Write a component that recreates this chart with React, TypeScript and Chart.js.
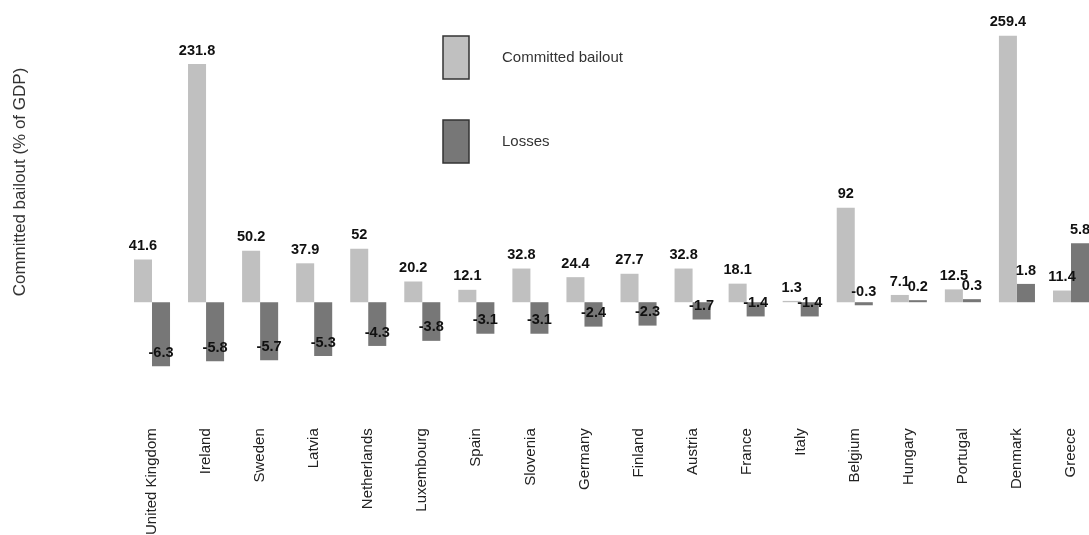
import React, { useEffect, useRef } from "react";
import { Chart, registerables } from "chart.js";

Chart.register(...registerables);

const categories = [
  "United Kingdom", "Ireland", "Sweden", "Latvia", "Netherlands", "Luxembourg",
  "Spain", "Slovenia", "Germany", "Finland", "Austria", "France", "Italy",
  "Belgium", "Hungary", "Portugal", "Denmark", "Greece",
];
const committedBailout = [41.6, 231.8, 50.2, 37.9, 52, 20.2, 12.1, 32.8, 24.4, 27.7, 32.8, 18.1, 1.3, 92, 7.1, 12.5, 259.4, 11.4];
const losses = [-6.3, -5.8, -5.7, -5.3, -4.3, -3.8, -3.1, -3.1, -2.4, -2.3, -1.7, -1.4, -1.4, -0.3, 0.2, 0.3, 1.8, 5.8];
const seriesNames = ["Committed bailout", "Losses"];
const yTitle = "Committed bailout (% of GDP)";

const FONT = "'Liberation Sans', Arial, sans-serif";

const valueLabels = {
  id: "valueLabels",
  afterDatasetsDraw(chart: any) {
    const ctx = chart.ctx;
    ctx.save();
    ctx.fillStyle = "#111";
    ctx.font = `bold 15px ${FONT}`;
    ctx.textAlign = "center";
    ctx.textBaseline = "middle";
    chart.data.datasets.forEach((ds: any, di: number) => {
      const meta = chart.getDatasetMeta(di);
      meta.data.forEach((el: any, i: number) => {
        const v = ds.data[i];
        ctx.save();
        ctx.translate(el.x, el.y - 13.5);
        ctx.scale(0.97, 1);
        ctx.fillText(String(v), 0, 0);
        ctx.restore();
      });
    });
    ctx.restore();
  },
};

const decorations = {
  id: "decorations",
  afterDraw(chart: any) {
    const ctx = chart.ctx;
    ctx.save();
    // legend
    chart.data.datasets.forEach((ds: any, i: number) => {
      const bx = 443;
      const by = 36 + i * 84;
      ctx.fillStyle = ds.backgroundColor;
      ctx.fillRect(bx, by, 26, 43);
      ctx.strokeStyle = "#333";
      ctx.lineWidth = 1.5;
      ctx.strokeRect(bx, by, 26, 43);
      ctx.fillStyle = "#333";
      ctx.font = `15px ${FONT}`;
      ctx.textAlign = "left";
      ctx.textBaseline = "middle";
      ctx.fillText(ds.label, 502, by + 22);
    });
    // y title
    ctx.translate(20, 182);
    ctx.rotate(-Math.PI / 2);
    ctx.fillStyle = "#333";
    ctx.font = `17px ${FONT}`;
    ctx.textAlign = "center";
    ctx.textBaseline = "middle";
    ctx.fillText(yTitle, 0, 0);
    ctx.restore();
  },
};

export default function App() {
  const ref = useRef<HTMLCanvasElement>(null);
  useEffect(() => {
    if (!ref.current) return;
    const chart = new Chart(ref.current, {
      type: "bar",
      data: {
        labels: categories,
        datasets: [
          {
            label: seriesNames[0],
            data: committedBailout,
            backgroundColor: "#c0c0c0",
            yAxisID: "y",
            clip: false as any,
            barPercentage: 1,
            categoryPercentage: 0.667,
          },
          {
            label: seriesNames[1],
            data: losses,
            backgroundColor: "#777777",
            yAxisID: "y2",
            clip: false as any,
            barPercentage: 1,
            categoryPercentage: 0.667,
          },
        ],
      },
      options: {
        responsive: true,
        maintainAspectRatio: false,
        animation: false,
        layout: { padding: { left: 152, right: 18, top: 30, bottom: 0 } },
        plugins: { legend: { display: false }, tooltip: { enabled: false } },
        scales: {
          x: {
            offset: false,
            grid: { display: false, drawTicks: false },
            border: { display: false },
            afterFit: (scale: any) => {
              scale.paddingLeft = 0;
              scale.paddingRight = 0;
            },
            ticks: {
              autoSkip: false,
              minRotation: 90,
              maxRotation: 90,
              padding: 8,
              color: "#222",
              font: { family: FONT, size: 15 },
            },
          },
          y: { display: false, min: -114.9, max: 265 },
          y2: { display: false, position: "right", min: -11.61, max: 26.77 },
        },
      },
      plugins: [valueLabels, decorations],
    });
    return () => chart.destroy();
  }, []);
  return (
    <div style={{ position: "absolute", left: 0, top: 0, width: 1089, height: 543, background: "#fff" }}>
      <canvas ref={ref} />
    </div>
  );
}
